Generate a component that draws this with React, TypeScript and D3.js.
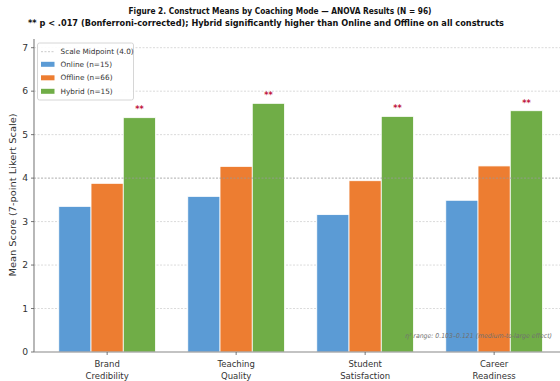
import React from 'react';
import * as d3 from 'd3';

const constructs = [['Brand', 'Credibility'], ['Teaching', 'Quality'], ['Student', 'Satisfaction'], ['Career', 'Readiness']];
const modes = ['Online (n=15)', 'Offline (n=66)', 'Hybrid (n=15)'];
const online = [3.35, 3.58, 3.16, 3.49];
const offline = [3.88, 4.27, 3.94, 4.28];
const hybrid = [5.39, 5.72, 5.42, 5.55];
const yTicks = [0, 1, 2, 3, 4, 5, 6, 7];
const midpoint = 4.0;

const colors = ['#5b9bd5', '#ed7d31', '#70ad47'];
const font = 'DejaVu Sans, sans-serif';

const App = () => {
  const W = 560;
  const H = 381;
  const m = { left: 34, top: 39, bottom: 352 };
  const series = [online, offline, hybrid];

  // x in "category units" like matplotlib, right edge falls outside the picture
  const x = d3.scaleLinear().domain([-0.567, 3.567]).range([m.left, m.left + 4.134 * 129]);
  const y = d3.scaleLinear().domain([0, 7.2]).range([m.bottom, m.top]);
  const bw = x(0.25) - x(0);
  const plotRight = x(3.567);

  return (
    <svg width={W} height={H} style={{ position: 'absolute', left: 0, top: 0, background: '#fff' }} fontFamily={font}>
      <text x={280} y={14} textAnchor="middle" fontSize={8.4} fontWeight="bold" fill="#111" textLength={303} lengthAdjust="spacingAndGlyphs">
        Figure 2. Construct Means by Coaching Mode — ANOVA Results (N = 96)
      </text>
      <text x={266} y={26} textAnchor="middle" fontSize={8.4} fontWeight="bold" fill="#111" textLength={476} lengthAdjust="spacingAndGlyphs">
        ** p &lt; .017 (Bonferroni-corrected); Hybrid significantly higher than Online and Offline on all constructs
      </text>

      {/* grid */}
      {yTicks.filter((t) => t !== midpoint && t !== 0).map((t) => (
        <line key={t} x1={m.left} x2={plotRight} y1={y(t)} y2={y(t)} stroke="#d0d0d0" strokeWidth={0.8} strokeDasharray="2,1.5" />
      ))}

      {/* bars */}
      {series.map((vals, si) =>
        vals.map((v, ci) => (
          <rect
            key={`${si}-${ci}`}
            x={x(ci + (si - 1) * 0.25) - bw / 2}
            y={y(v)}
            width={bw}
            height={y(0) - y(v)}
            fill={colors[si]}
            stroke="#fff"
            strokeWidth={0.8}
          />
        ))
      )}

      {/* midpoint */}
      <line x1={m.left} x2={plotRight} y1={y(midpoint)} y2={y(midpoint)} stroke="#999" strokeWidth={0.8} strokeDasharray="2,1.5" />

      {/* significance stars */}
      {hybrid.map((v, ci) => (
        <text key={ci} x={x(ci + 0.25)} y={y(v + 0.12)} textAnchor="middle" fontSize={8} fontWeight="bold" fill="#c0143c">
          **
        </text>
      ))}

      {/* axes */}
      <line x1={m.left} x2={m.left} y1={m.top} y2={m.bottom} stroke="#888" strokeWidth={1.2} />
      <line x1={m.left} x2={plotRight} y1={m.bottom} y2={m.bottom} stroke="#888" strokeWidth={1.2} />
      {yTicks.map((t) => (
        <g key={t} transform={`translate(${m.left},${y(t)})`}>
          <line x1={-3} x2={0} stroke="#555" strokeWidth={0.8} />
          <text x={-6} dy="0.35em" textAnchor="end" fontSize={9.2} fill="#333">{t}</text>
        </g>
      ))}
      {constructs.map((lines, ci) => (
        <g key={ci} transform={`translate(${x(ci)},${m.bottom})`}>
          <line y1={0} y2={3} stroke="#555" strokeWidth={0.8} />
          {lines.map((l, li) => (
            <text key={li} y={15 + li * 11.5} textAnchor="middle" fontSize={8.5} fill="#333">{l}</text>
          ))}
        </g>
      ))}
      <text transform={`translate(16,195) rotate(-90)`} textAnchor="middle" fontSize={9} fill="#333" textLength={163} lengthAdjust="spacingAndGlyphs">
        Mean Score (7-point Likert Scale)
      </text>

      {/* effect size note */}
      <text x={552} y={338} textAnchor="end" fontSize={6.6} fontStyle="italic" fill="#707070" textLength={147} lengthAdjust="spacingAndGlyphs">
        η² range: 0.103–0.121 (medium-to-large effect)
      </text>

      {/* legend */}
      <g transform="translate(37.5,43)">
        <rect width={96} height={57} rx={2} fill="#fff" fillOpacity={0.9} stroke="#ccc" strokeWidth={0.8} />
        <line x1={3.5} x2={17} y1={8.7} y2={8.7} stroke="#bbb" strokeWidth={0.8} strokeDasharray="2,1.5" />
        <text x={23} y={8.7} dy="0.35em" fontSize={7.3} fill="#333">Scale Midpoint (4.0)</text>
        {modes.map((md, i) => (
          <g key={md} transform={`translate(0,${21.3 + i * 13.5})`}>
            <rect x={3.5} y={-2.5} width={13.5} height={5} fill={colors[i]} />
            <text x={23} dy="0.35em" fontSize={7.3} fill="#333">{md}</text>
          </g>
        ))}
      </g>
    </svg>
  );
};

export default App;
